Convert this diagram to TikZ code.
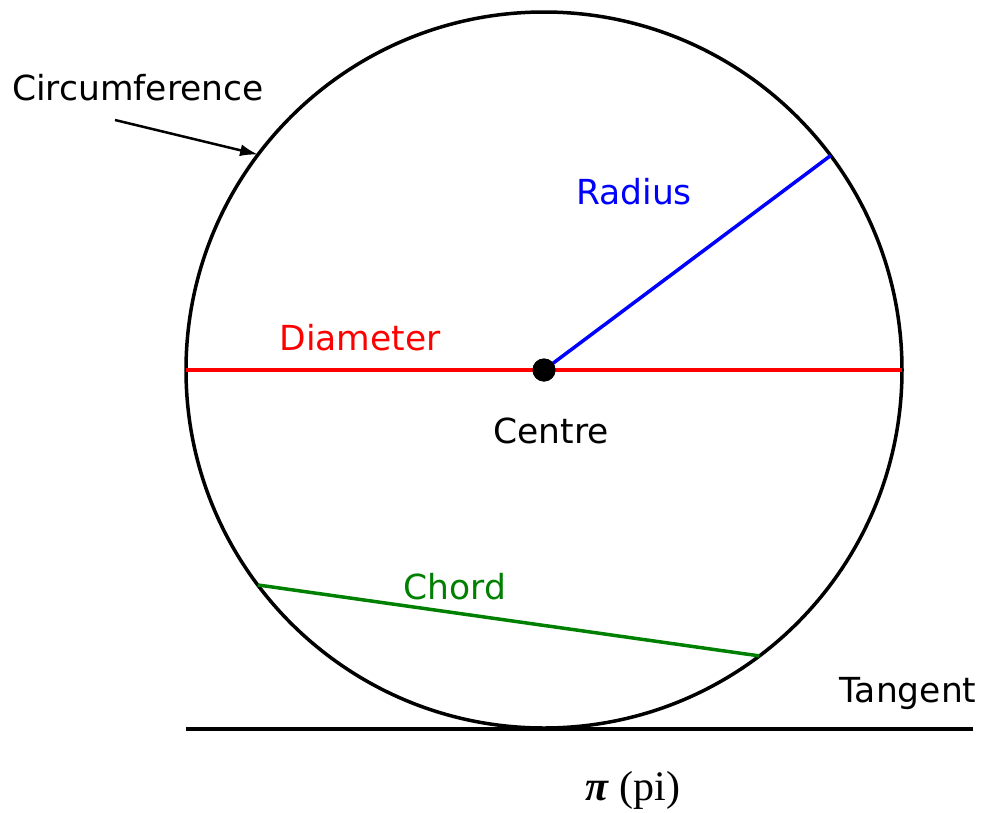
\documentclass[tikz,border=0pt]{standalone}
\usepackage{fontspec}
\setmainfont{DejaVu Sans}
\newfontfamily\pifont{Liberation Serif}
\usetikzlibrary{arrows.meta}
\definecolor{radblue}{HTML}{0000FF}
\definecolor{diamred}{HTML}{FF0000}
\definecolor{chordgreen}{HTML}{008000}
\tikzset{>=Latex,line width=3.5pt,
  every node/.style={font=\fontsize{34.5}{38}\selectfont,inner sep=0pt},
  rim/.style={draw=black,line width=3.5pt},
  part/.style={line width=3.5pt},
  pointer/.style={->,line width=2.5pt,>={Latex[length=18pt,width=12pt]}},
  dot/.style={circle,fill=black,minimum size=23pt}}
\begin{document}
\begin{tikzpicture}[x=1pt,y=-1pt]
\useasboundingbox (0,0) rectangle (983,812);
\node[dot] (c) at (544,370) {};
\draw[rim] (c.center) circle[radius=358];
\path (c.center) ++(-36.8:358) coordinate (r);
\path (c.center) ++(180:358) coordinate (dl) ++(0:716) coordinate (dr);
\path (c.center) ++(143.1:358) coordinate (ch1);
\path (c.center) ++(53:358) coordinate (ch2);
\path (c.center) ++(-143:358) coordinate (cf);
\coordinate (t1) at (186,729); \coordinate (t2) at (973,729);
\coordinate (ctail) at (115,120);
\draw[part,diamred] (dl)--(dr);
\draw[part,radblue] (c.center)--(r);
\draw[part,chordgreen] (ch1)--(ch2);
\draw[rim] (t1)--(t2);
\node[dot] at (c.center) {};
\draw[pointer] (ctail)--(cf);
\node (circ) at (138,88) {Circumference};
\node[radblue] (rlab) at (634,192) {Radius};
\node[diamred] (dlab) at (360,338) {Diameter};
\node (clab) at (551,431) {Centre};
\node[chordgreen] (chlab) at (455,587) {Chord};
\node (tlab) at (908,694) {Tangent};
\node (pi) at (633,790) {\pifont\fontsize{42}{46}\selectfont\textbf{\textit{π}} (pi)};
\end{tikzpicture}
\end{document}
